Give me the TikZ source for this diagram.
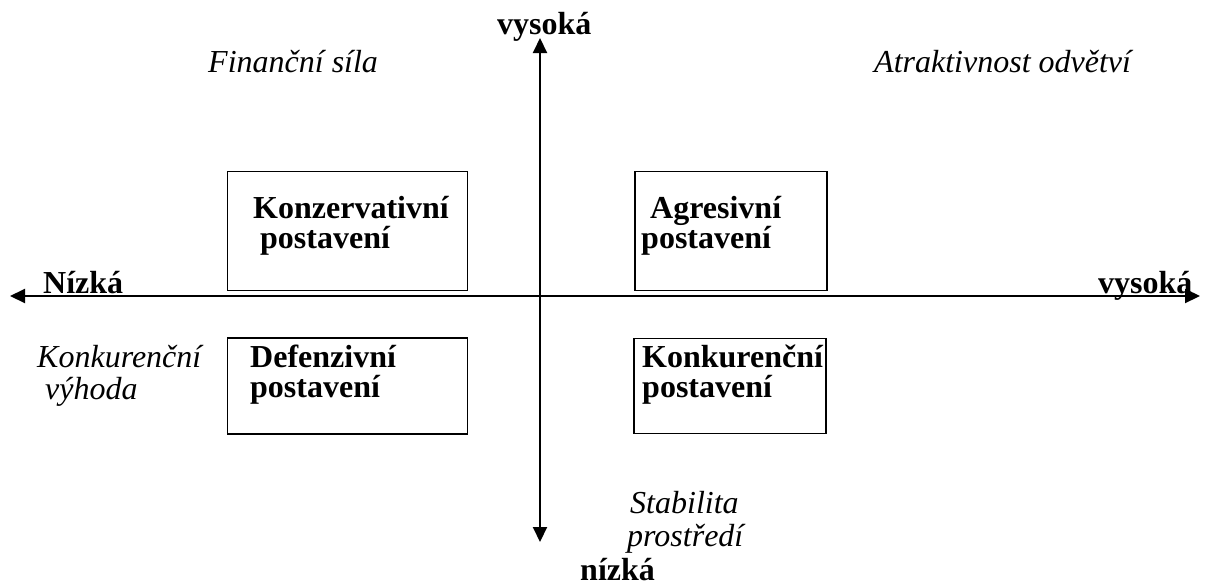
\documentclass[tikz,border=0pt]{standalone}
\usepackage{fontspec}
\setmainfont{Liberation Serif}
\usetikzlibrary{arrows.meta}
\tikzset{
  axis/.style={line width=2pt,{Triangle[length=15pt,width=14pt]}-{Triangle[length=15pt,width=14pt]}},
  quad/.style={draw,line width=1.8pt,rectangle,inner sep=0pt},
  lbl/.style={anchor=base west,inner sep=0pt,font=\fontsize{32}{30}\selectfont},
  blbl/.style={lbl,font=\fontsize{32}{30}\selectfont\bfseries},
  ilbl/.style={lbl,font=\fontsize{32}{30}\selectfont\itshape},
}
\begin{document}
\begin{tikzpicture}[x=1pt,y=-1pt]
\useasboundingbox (0,0) rectangle (1209,587);
% axis end points
\coordinate (L) at (10,296);
\coordinate (R) at (1200,296);
\coordinate (T) at (540,38);
\coordinate (B) at (540,542);
\draw[axis] (L) -- (R);
\draw[axis] (B) -- (T);
% quadrant boxes
\node[quad,minimum width=240pt,minimum height=119pt] (kb) at (347.5,231) {};
\node[quad,minimum width=192pt,minimum height=119pt] (ab) at (731,231) {};
\node[quad,minimum width=240pt,minimum height=96pt] (db) at (347.5,386) {};
\node[quad,minimum width=192pt,minimum height=95pt] (cb) at (730,386) {};
% box texts
\node[blbl] (k1) at (253,218) {Konzervativní};
\node[blbl] (k2) at (260,248) {postavení};
\node[blbl] (a1) at (650,218) {Agresivní};
\node[blbl] (a2) at (641,248) {postavení};
\node[blbl] (d1) at (250,367) {Defenzivní};
\node[blbl] (d2) at (250,397) {postavení};
\node[blbl] (c1) at (642,367) {Konkurenční};
\node[blbl] (c2) at (642,397) {postavení};
% axis ends
\node[blbl] (ytop) at (497,34) {vysoká};
\node[blbl] (ybot) at (580,580) {nízká};
\node[blbl] (xl) at (43,293) {Nízká};
\node[blbl] (xr) at (1098,293) {vysoká};
% axis titles
\node[ilbl] (fs) at (208,72) {Finanční síla};
\node[ilbl] (ao) at (874,72) {Atraktivnost odvětví};
\node[ilbl] (kv1) at (37,367) {Konkurenční};
\node[ilbl] (kv2) at (45,399) {výhoda};
\node[ilbl] (sp1) at (630,513) {Stabilita};
\node[ilbl] (sp2) at (627,546) {prostředí};
\end{tikzpicture}
\end{document}
